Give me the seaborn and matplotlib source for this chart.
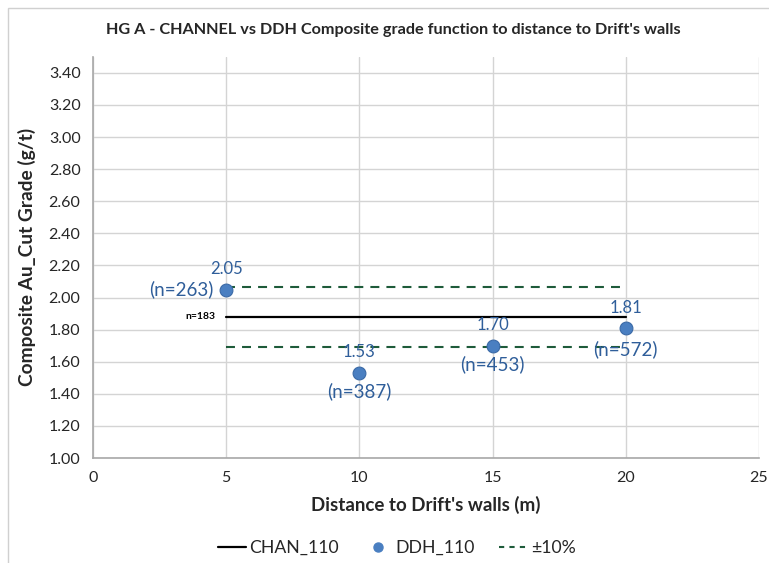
import pandas as pd
import seaborn as sns
import matplotlib.pyplot as plt
from matplotlib.lines import Line2D
from matplotlib.patches import Rectangle

# Values
distance = [5, 10, 15, 20]
ddh_grade = [2.05, 1.53, 1.70, 1.81]
ddh_n = [263, 387, 453, 572]
chan_x = [5, 20]
chan_grade = [1.88, 1.88]
chan_n = 183
upper_10 = [2.068, 2.068]
lower_10 = [1.692, 1.692]
x_ticks = [0, 5, 10, 15, 20, 25]
y_ticks = [1.0, 1.2, 1.4, 1.6, 1.8, 2.0, 2.2, 2.4, 2.6, 2.8, 3.0, 3.2, 3.4]


def create_chart():
    sns.set_style('white')
    plt.rcParams['font.family'] = ['Lato', 'DejaVu Sans']

    fig = plt.figure(figsize=(7.69, 5.63), dpi=100)
    ax = fig.add_axes([0.121, 0.1865, 0.866, 0.7125])

    # outer chart border
    fig.patches.append(Rectangle((0.011, -0.02), 1.0, 1.005, transform=fig.transFigure,
                                 fill=False, edgecolor='#d0d0d0', linewidth=1.0))

    df_pts = pd.DataFrame({'dist': distance, 'grade': ddh_grade})
    df_chan = pd.DataFrame({'dist': chan_x, 'grade': chan_grade})
    df_up = pd.DataFrame({'dist': chan_x, 'grade': upper_10})
    df_lo = pd.DataFrame({'dist': chan_x, 'grade': lower_10})

    green = '#1e5b3a'
    dash = (0, (4.3, 3.4))
    sns.lineplot(data=df_up, x='dist', y='grade', ax=ax, color=green, linestyle=dash,
                 linewidth=1.5, zorder=3)
    sns.lineplot(data=df_lo, x='dist', y='grade', ax=ax, color=green, linestyle=dash,
                 linewidth=1.5, zorder=3)
    sns.lineplot(data=df_chan, x='dist', y='grade', ax=ax, color='black', linewidth=1.6, zorder=3)
    sns.scatterplot(data=df_pts, x='dist', y='grade', ax=ax, color='#4a7fc1', edgecolor='#3b6aa6',
                    s=85, linewidth=0.8, zorder=4)

    lab_col = '#2f5e9a'
    for x, g, n in zip(distance, ddh_grade, ddh_n):
        ax.annotate(f'{g:.2f}', (x, g), xytext=(0, 9), textcoords='offset points',
                    ha='center', va='bottom', color=lab_col, fontsize=12)
        if x == 5:
            ax.annotate(f'(n={n})', (x, g), xytext=(-9, 0), textcoords='offset points',
                        ha='right', va='center', color=lab_col, fontsize=13.5)
        elif x == 20:
            ax.annotate(f'(n={n})', (x, g), xytext=(0, -9), textcoords='offset points',
                        ha='center', va='top', color=lab_col, fontsize=13.5)
        else:
            ax.annotate(f'(n={n})', (x, g), xytext=(0, -7), textcoords='offset points',
                        ha='center', va='top', color=lab_col, fontsize=13.5)
    ax.annotate(f'n={chan_n}', (chan_x[0], chan_grade[0]), xytext=(-8, 0),
                textcoords='offset points', ha='right', va='center', fontsize=7.5,
                fontweight='bold', color='black')

    ax.set_xlim(0, 25)
    ax.set_ylim(1.0, 3.5)
    ax.set_xticks(x_ticks)
    ax.set_yticks(y_ticks)
    ax.set_yticklabels([f'{v:.2f}' for v in y_ticks])
    ax.tick_params(axis='both', labelsize=11.5, length=0, pad=9)
    ax.grid(True, color='#d4d4d4', linewidth=1.0)
    ax.set_axisbelow(True)
    for side in ['top', 'right']:
        ax.spines[side].set_visible(False)
    for side in ['left', 'bottom']:
        ax.spines[side].set_color('#a8a8a8')
        ax.spines[side].set_linewidth(1.2)

    ax.set_xlabel("Distance to Drift's walls (m)", fontsize=13.5, fontweight='bold', labelpad=8)
    ax.set_ylabel('Composite Au_Cut Grade (g/t)', fontsize=13.8, fontweight='bold', labelpad=9)
    fig.text(0.512, 0.947, "HG A - CHANNEL vs DDH Composite grade function to distance to Drift's walls",
             ha='center', va='center', fontsize=11.7, fontweight='bold')

    handles = [
        Line2D([], [], color='black', linewidth=1.6),
        Line2D([], [], color='#4a7fc1', marker='o', linestyle='none', markersize=6.5),
        Line2D([], [], color=green, linestyle=(0, (2.5, 2.5)), linewidth=1.5),
    ]
    fig.legend(handles, ['CHAN_110', 'DDH_110', '±10%'], loc='center', ncol=3,
               bbox_to_anchor=(0.516, 0.027), frameon=False, fontsize=12.7,
               handlelength=1.6, handletextpad=0.2, columnspacing=1.4)

    fig.savefig('out.png', dpi=100)


if __name__ == '__main__':
    create_chart()
